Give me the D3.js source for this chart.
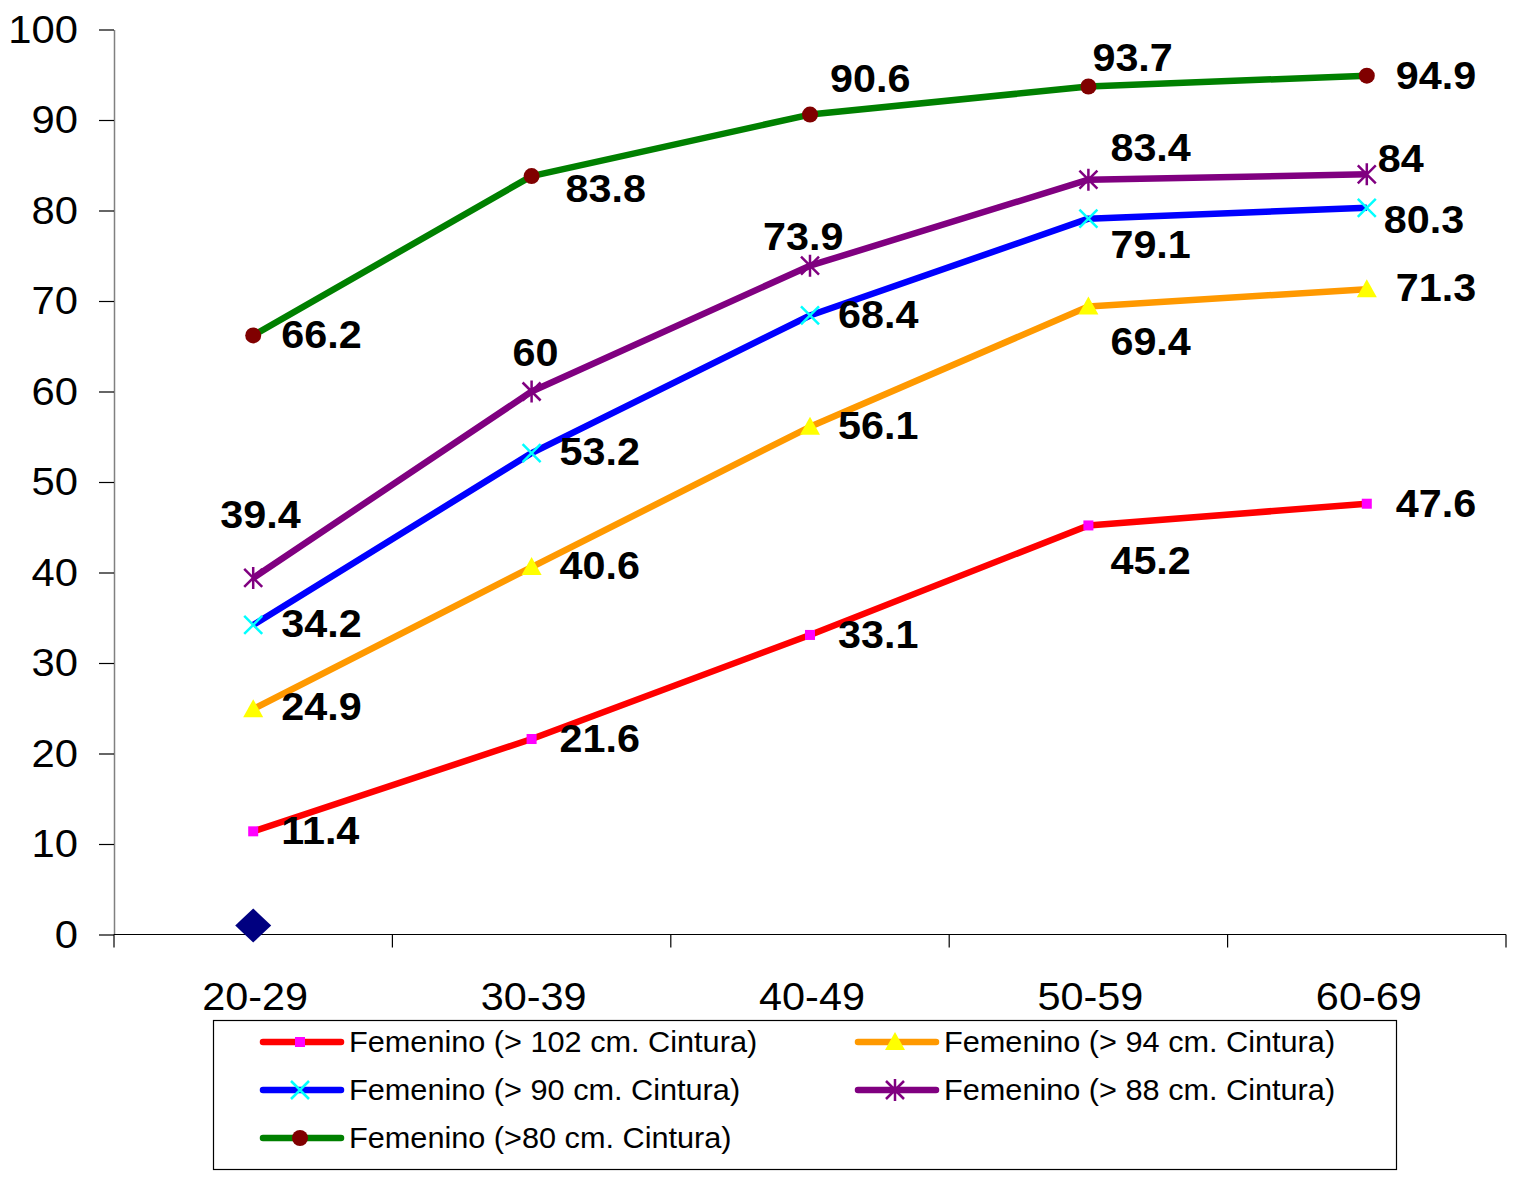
<!DOCTYPE html>
<html><head><meta charset="utf-8">
<script src="https://cdn.jsdelivr.net/npm/d3@7"></script>
<style>body{margin:0;background:#fff}svg{display:block}</style>
</head><body>
<svg id="c" width="1514" height="1177"></svg>
<script>
const categories = ["20-29","30-39","40-49","50-59","60-69"];
const yTicks = [0,10,20,30,40,50,60,70,80,90,100];
const seriesNames = [
  "Femenino (> 102 cm. Cintura)",
  "Femenino (> 94 cm. Cintura)",
  "Femenino (> 90 cm. Cintura)",
  "Femenino (> 88 cm. Cintura)",
  "Femenino (>80 cm. Cintura)"
];
const femenino102 = [11.4, 21.6, 33.1, 45.2, 47.6];
const femenino94  = [24.9, 40.6, 56.1, 69.4, 71.3];
const femenino90  = [34.2, 53.2, 68.4, 79.1, 80.3];
const femenino88  = [39.4, 60, 73.9, 83.4, 84];
const femenino80  = [66.2, 83.8, 90.6, 93.7, 94.9];
const extraPoint  = [1]; // stray diamond at 20-29

// styling / layout (not data)
const styles = [
  {line:"#ff0000", marker:"square",   mfill:"#ff00ff"},
  {line:"#ff9900", marker:"triangle", mfill:"#ffff00"},
  {line:"#0000ff", marker:"x",        mfill:"#00ffff"},
  {line:"#800080", marker:"star",     mfill:"#800080"},
  {line:"#008000", marker:"circle",   mfill:"#800000"}
];
// label offsets [dx (left edge), dy (center)] relative to point
const labelOffsets = [
  [[28,0],[28,0],[28,0],[22,35],[29,0]],
  [[28,-2],[28,-1],[28,-1],[22,35],[29,-1]],
  [[28,-1],[28,-1],[28,-1],[22,26],[17,12]],
  [[-33,-63],[-19,-39],[-47,-29],[22,-32],[11,-15]],
  [[28,0],[34,13],[20,-36],[4,-29],[29,0]]
];
const allSeries = [femenino102, femenino94, femenino90, femenino88, femenino80];

const svg = d3.select("#c");
const x = d3.scaleBand().domain(categories).range([114, 1506]).padding(0);
const y = d3.scaleLinear().domain([0,100]).range([934.5, 29.5]);
const cx = c => x(c) + x.bandwidth()/2;

function stxt(g, tx, ty, str, opts) {
  return g.append("text")
    .attr("transform", `translate(${tx},${ty}) scale(${opts.sx || 1},1)`)
    .attr("font-family", "Liberation Sans, Arial, sans-serif")
    .attr("font-size", opts.size)
    .attr("font-weight", opts.bold ? "bold" : "normal")
    .attr("text-anchor", opts.anchor || "start")
    .attr("dominant-baseline", opts.baseline || "auto")
    .attr("fill", "#000")
    .text(str);
}

// Y axis
const yAxis = svg.append("g").attr("transform","translate(114,0)")
  .call(d3.axisLeft(y).tickValues(yTicks).tickSize(15).tickSizeOuter(0).tickFormat(""));
yAxis.select(".domain").attr("stroke","#808080").attr("stroke-width",1.5);
yAxis.selectAll(".tick line").attr("stroke","#000").attr("stroke-width",1.2);
const yl = svg.append("g");
yTicks.forEach(v => stxt(yl, 78, y(v), String(v), {size:38, sx:1.1, anchor:"end", baseline:"central"}));

// X axis
const xAxisG = svg.append("g").attr("transform","translate(0,934.5)");
xAxisG.append("line").attr("x1",114).attr("x2",1506).attr("y1",0).attr("y2",0)
  .attr("stroke","#000").attr("stroke-width",1.2);
const bounds = categories.map(c => x(c)).concat([x(categories[categories.length-1]) + x.bandwidth()]);
xAxisG.selectAll("line.t").data(bounds).enter().append("line").attr("class","t")
  .attr("x1",d=>d).attr("x2",d=>d).attr("y1",0).attr("y2",13).attr("stroke","#000").attr("stroke-width",1.2);
const xl = svg.append("g");
categories.forEach(c => stxt(xl, cx(c)+2, 1010, c, {size:38, sx:1.09, anchor:"middle"}));

// marker drawing
function marker(g, type, px, py, fill) {
  if (type === "square") {
    g.append("rect").attr("x",px-5).attr("y",py-5).attr("width",10).attr("height",10).attr("fill",fill);
  } else if (type === "triangle") {
    g.append("path").attr("d",`M${px},${py-10}L${px+10},${py+8}L${px-10},${py+8}Z`).attr("fill",fill);
  } else if (type === "x") {
    g.append("path").attr("d",`M${px-9},${py-9}L${px+9},${py+9}M${px+9},${py-9}L${px-9},${py+9}`)
      .attr("stroke",fill).attr("stroke-width",2.5);
  } else if (type === "star") {
    g.append("path").attr("d",`M${px-9},${py-9}L${px+9},${py+9}M${px+9},${py-9}L${px-9},${py+9}M${px},${py-11}L${px},${py+11}`)
      .attr("stroke",fill).attr("stroke-width",2.5);
  } else if (type === "circle") {
    g.append("circle").attr("cx",px).attr("cy",py).attr("r",8).attr("fill",fill);
  } else if (type === "diamond") {
    g.append("path").attr("d",`M${px},${py-17}L${px+18},${py}L${px},${py+17}L${px-18},${py}Z`).attr("fill",fill);
  }
}

// lines
const lineGen = d3.line().x((d,i)=>cx(categories[i])).y(d=>y(d));
const plot = svg.append("g");
allSeries.forEach((vals, si) => {
  plot.append("path").attr("d", lineGen(vals)).attr("fill","none")
    .attr("stroke", styles[si].line).attr("stroke-width",6.5).attr("stroke-linejoin","round");
});
allSeries.forEach((vals, si) => {
  vals.forEach((v,i) => marker(plot, styles[si].marker, cx(categories[i]), y(v), styles[si].mfill));
});
extraPoint.forEach((v,i) => marker(plot, "diamond", cx(categories[i]), y(v), "#000080"));

// labels
const lbl = svg.append("g");
allSeries.forEach((vals, si) => {
  vals.forEach((v,i) => {
    const o = labelOffsets[si][i];
    stxt(lbl, cx(categories[i]) + o[0], y(v) + o[1], String(v), {size:39, sx:1.06, bold:true, baseline:"central"});
  });
});

// legend
const lg = svg.append("g");
lg.append("rect").attr("x",213.5).attr("y",1020.5).attr("width",1183).attr("height",149)
  .attr("fill","none").attr("stroke","#000").attr("stroke-width",1.2);
const legendPos = [[263,1042],[858,1042],[263,1090],[858,1090],[263,1138]];
seriesNames.forEach((name, si) => {
  const [lx, ly] = legendPos[si];
  lg.append("line").attr("x1",lx).attr("x2",lx+78).attr("y1",ly).attr("y2",ly)
    .attr("stroke",styles[si].line).attr("stroke-width",6.5).attr("stroke-linecap","round");
  marker(lg, styles[si].marker, lx+37, ly, styles[si].mfill);
  stxt(lg, lx+86, ly, name, {size:29.5, sx:1.04, baseline:"central"});
});
</script>
</body></html>
